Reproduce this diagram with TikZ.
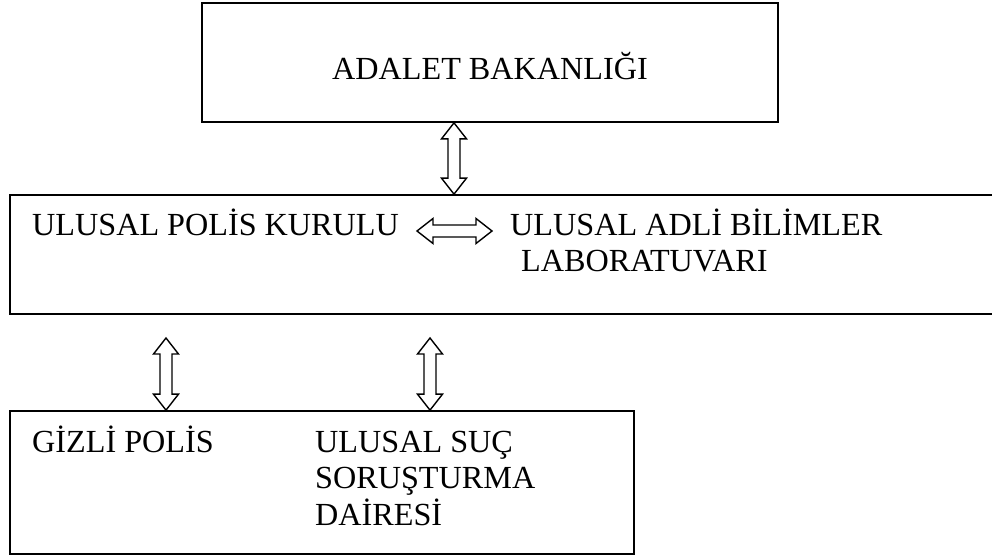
\documentclass[tikz,border=0pt]{standalone}
\usepackage{fontspec}
\setmainfont{Liberation Serif}
\usetikzlibrary{calc}

\begin{document}
\begin{tikzpicture}[
        x=1pt, y=-1pt,
        box/.style={draw, line width=1.7pt, inner sep=0pt},
        label/.style={inner sep=0pt, font=\fontsize{32.2}{37}\selectfont},
        blockarrow/.style={draw, line width=1.4pt, line join=miter,
            to path={let \p1=(\tikztostart), \p2=(\tikztotarget),
                \n1={atan2(\y2-\y1,\x2-\x1)} in
                (\p1) -- ($(\p1)+(\n1+38:20.3pt)$) -- ($(\p1)+(\n1+20.6:17.1pt)$)
                -- ($(\p2)+(\n1+159.4:17.1pt)$) -- ($(\p2)+(\n1+142:20.3pt)$)
                -- (\p2) -- ($(\p2)+(\n1+218:20.3pt)$) -- ($(\p2)+(\n1+200.6:17.1pt)$)
                -- ($(\p1)+(\n1-20.6:17.1pt)$) -- ($(\p1)+(\n1-38:20.3pt)$) -- cycle}},
        ]
        \useasboundingbox (0,0) rectangle (992,556);

        % Boxes
        \node[box, minimum width=576pt, minimum height=119pt] (bakanlik) at (490,62.5) {};
        \node[box, minimum width=990pt, minimum height=119pt] (kurul) at (505,254.5) {};
        \node[box, minimum width=624pt, minimum height=143pt] (daire) at (322,482.5) {};

        % Labels
        \node[label, anchor=base] (adalet) at (490,80) {ADALET BAKANLIĞI};
        \node[label, anchor=base west] (polis) at (32,235) {ULUSAL POLİS KURULU};
        \node[label, anchor=base west] (adli) at (510,235) {ULUSAL ADLİ BİLİMLER};
        \node[label, anchor=base west] (lab) at (521,271) {LABORATUVARI};
        \node[label, anchor=base west] (gizli) at (32,452) {GİZLİ POLİS};
        \node[label, anchor=base west] (suc) at (315,452) {ULUSAL SUÇ};
        \node[label, anchor=base west] (sorusturma) at (315,488) {SORUŞTURMA};
        \node[label, anchor=base west] (dairesi) at (315,525) {DAİRESİ};

        % Free arrow ends
        \coordinate (h1) at (417,231);
        \coordinate (h2) at (492,231);
        \coordinate (g1) at (166,338);
        \coordinate (s1) at (430,338);

        % Arrows
        \draw[blockarrow] (bakanlik.south -| 454,0) to (kurul.north -| 454,0);
        \draw[blockarrow] (h1) to (h2);
        \draw[blockarrow] (g1) to (daire.north -| 166,0);
        \draw[blockarrow] (s1) to (daire.north -| 430,0);

    \end{tikzpicture}
\end{document}
